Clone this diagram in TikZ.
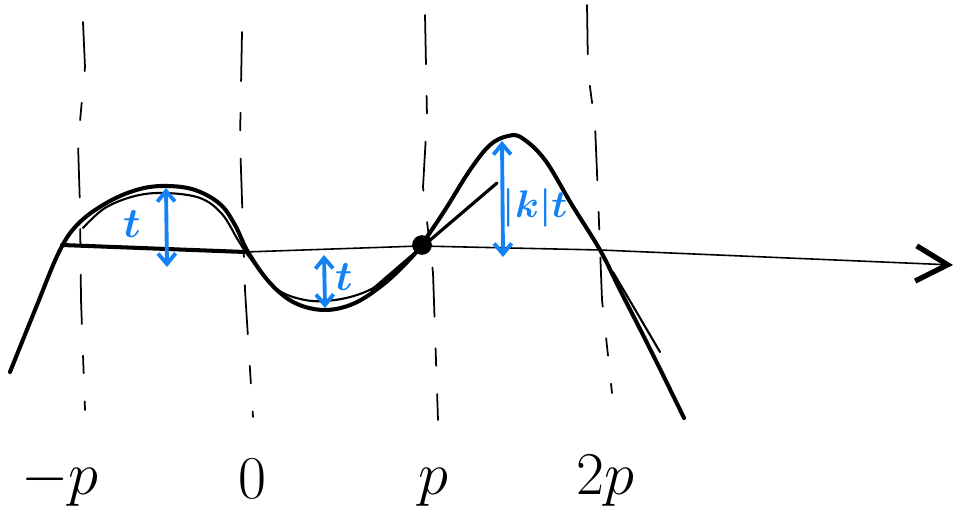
\documentclass[tikz,border=0pt]{standalone}
\usepackage{xcolor}
\usepackage{amsmath}
\usepackage{tikz}
\usetikzlibrary{arrows.meta, positioning}
\definecolor{inkdark}{RGB}{0,0,0}
\definecolor{inkblue}{RGB}{20,130,245}
\tikzset{
  graph/.style={line width=1.15pt, line cap=round, line join=round, color=inkdark},
  sketch/.style={line width=0.6pt, line cap=round, color=inkdark},
  axis/.style={line width=0.45pt, color=inkdark},
  guide/.style={line width=0.5pt, line cap=round, dash pattern=on 14pt off 9pt on 5pt off 8pt, color=inkdark},
  bluearrow/.style={{Straight Barb[length=3pt,width=5pt]}-{Straight Barb[length=3pt,width=5pt]}, line width=1.1pt, color=inkblue},
  ticklbl/.style={font=\fontsize{16}{18}\selectfont, inner sep=0pt, anchor=base},
  bluelbl/.style={font=\fontsize{13}{15}\selectfont, color=inkblue, inner sep=0pt}
}

\begin{document}
\begin{tikzpicture}[x=0.01cm, y=-0.01cm]
  \useasboundingbox (0,0) rectangle (962,528);

  % Dashed guides at -p, 0, p, 2p
  \draw[guide] (83,22) -- (85,67) -- (78,143) -- (80,207) -- (81,300) -- (85,410);
  \draw[guide] (242,32) -- (240,140) -- (245,290) -- (253,417);
  \draw[guide] (425,15) -- (427,117) -- (423,187) -- (433,273) -- (438,420);
  \draw[guide] (587,5) -- (588,72) -- (595,125) -- (598,197) -- (602,300) -- (612,393);

  % Axis
  \draw[graph] (62,245) -- (245,252);
  \draw[axis, -{Straight Barb[length=9pt,width=10pt,line width=1.5pt]}] (245,252) -- (420,246) -- (600,250) -- (953,265);

  % Graph
  \draw[graph] plot[smooth, tension=0.6] coordinates {(10,372) (35,310) (60,250) (80,222) (110,201) (140,189) (167,186) (195,190) (220,204) (235,225) (248,252) (270,283) (295,303) (325,310) (355,303) (385,283) (410,259) (422,244) (445,210) (470,170) (490,145) (508,136) (522,138) (545,160) (572,205) (600,250) (620,290) (641,331) (662,373) (684,418)};

  % Perturbed sketch
  \draw[sketch] plot[smooth, tension=0.6] coordinates {(83,228) (105,208) (135,196) (165,193) (200,198) (222,214) (238,240) (250,258) (275,288) (305,300) (335,300) (365,292) (392,276) (412,256)};
  \draw[sketch, line width=0.9pt] (372,290) -- (422,247) -- (497,183);
  \draw[sketch] (613,272) -- (660,352);

  \node[circle, fill=inkdark, inner sep=0pt, minimum size=5.6pt] (dot) at (422,245) {};

  % Blue increments
  \coordinate (upa) at (166,188);
  \coordinate (lowa) at (167,267);
  \coordinate (upb) at (324,255);
  \coordinate (lowb) at (325,308);
  \coordinate (upc) at (502,141);
  \coordinate (lowc) at (503,257);
  \draw[bluearrow] (upa) -- (lowa);
  \draw[bluearrow] (upb) -- (lowb);
  \draw[bluearrow] (upc) -- (lowc);
  \node[bluelbl] (tlbla) at (132,224) {$\boldsymbol{t}$};
  \node[bluelbl] (tlblb) at (344,277) {$\boldsymbol{t}$};
  \node[bluelbl, font=\fontsize{11}{13}\selectfont] (klbl) at (535,208) {$\boldsymbol{|k|t}$};

  % Tick labels
  \node[ticklbl] (lblneg) at (60,494) {$-p$};
  \node[ticklbl] (lblzero) at (252,498) {$0$};
  \node[ticklbl] (lblp) at (433,494) {$p$};
  \node[ticklbl] (lbltwop) at (605,494) {$2p$};
\end{tikzpicture}
\end{document}
